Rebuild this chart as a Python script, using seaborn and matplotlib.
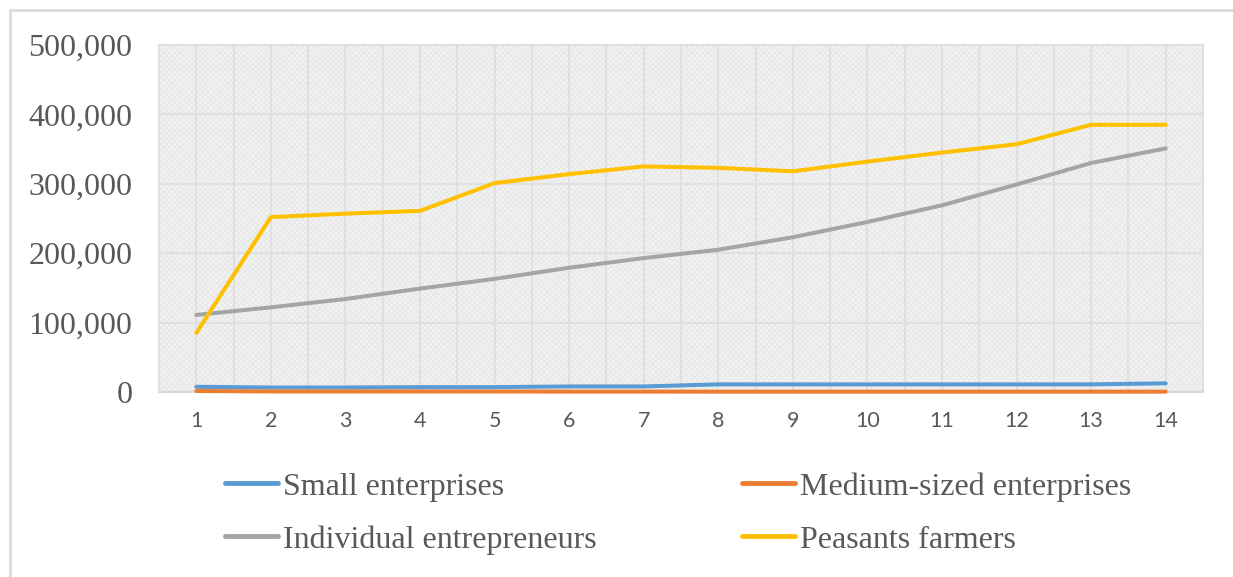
import numpy as np
import pandas as pd
import matplotlib
matplotlib.use("Agg")
import matplotlib.pyplot as plt
import seaborn as sns
from matplotlib.patches import Rectangle
from matplotlib.ticker import FuncFormatter, MultipleLocator

periods = list(range(1, 15))
small = [7500, 6500, 6500, 7000, 7000, 8000, 8000, 11000, 11000, 11000, 11000, 11000, 11000, 12500]
medium = [1500, 800, 800, 800, 700, 600, 600, 500, 500, 500, 500, 500, 500, 500]
individual = [111000, 122000, 134000, 149000, 163000, 179000, 193000, 205000, 223000, 245000, 269000, 299000, 330000, 351000]
peasants = [85000, 252000, 257000, 261000, 301000, 314000, 325000, 323000, 318000, 332000, 345000, 357000, 385000, 385000]

series_names = ["Small enterprises", "Medium-sized enterprises", "Individual entrepreneurs", "Peasants farmers"]
colors = ["#5B9BD5", "#ED7D31", "#A5A5A5", "#FFC000"]

df = pd.DataFrame({
    "period": periods * 4,
    "value": small + medium + individual + peasants,
    "series": sum([[n] * len(periods) for n in series_names], []),
})

sns.set_theme(style="white")
plt.rcParams["font.family"] = ["Liberation Serif", "DejaVu Serif"]

fig = plt.figure(figsize=(12.33, 5.77), dpi=100)
W, H = 1233, 577
ax = fig.add_axes([159 / W, 1 - 392 / H, (1203 - 159) / W, (392 - 45) / H])

# chart border
fig.patches.append(Rectangle((10 / W, -0.1), 1.2, 1 - 10 / H + 0.1, transform=fig.transFigure,
                             fill=False, edgecolor="#D9D9D9", linewidth=2))

# patterned background
ax.set_facecolor("#F3F3F3")
ax.add_patch(Rectangle((0, 0), 1, 1, transform=ax.transAxes, facecolor="none",
                       edgecolor="#E9E9E9", hatch="xxxxxx", linewidth=0, zorder=0))

sns.lineplot(data=df, x="period", y="value", hue="series", hue_order=series_names,
             palette=colors, linewidth=2.9, ax=ax, legend=False, zorder=3)
for l in ax.lines:
    l.set_solid_capstyle("round")
    l.set_clip_on(False)

ax.set_xlim(0.5, 14.5)
ax.set_ylim(0, 500000)
ax.xaxis.set_major_locator(MultipleLocator(1))
ax.xaxis.set_minor_locator(MultipleLocator(0.5))
ax.yaxis.set_major_locator(MultipleLocator(100000))
ax.grid(True, which="major", axis="y", color="#E0E0E0", linewidth=1.5, zorder=1)
ax.grid(True, which="both", axis="x", color="#E0E0E0", linewidth=1.5, zorder=1)
ax.set_axisbelow(True)
ax.yaxis.set_major_formatter(FuncFormatter(lambda v, p: f"{int(v):,}"))
ax.set_xticks(periods)
ax.set_xlabel("")
ax.set_ylabel("")
ax.tick_params(axis="both", which="both", length=0)
ax.tick_params(axis="y", pad=19, labelsize=23, labelcolor="#595959")
ax.tick_params(axis="x", pad=14, labelsize=15.5, labelcolor="#595959")
for lab in ax.get_xticklabels():
    lab.set_family(["Lato", "DejaVu Sans"])
for s in ax.spines.values():
    s.set_color("#E0E0E0")
    s.set_linewidth(1.5)
ax.spines["bottom"].set_color("#D9D9D9")

handles = [plt.Line2D([], [], color=c, linewidth=3.5, solid_capstyle="round") for c in colors]
order = [0, 2, 1, 3]
leg = fig.legend([handles[i] for i in order], [series_names[i] for i in order],
                 ncol=2, loc="upper left", bbox_to_anchor=(225 / W, 1 - 472 / H),
                 frameon=False, fontsize=23, handlelength=1.66, handletextpad=0.16,
                 columnspacing=4.55, labelspacing=0.74, borderaxespad=0, borderpad=0)
for t in leg.get_texts():
    t.set_color("#595959")

fig.savefig("out.png", dpi=100, facecolor="white")
